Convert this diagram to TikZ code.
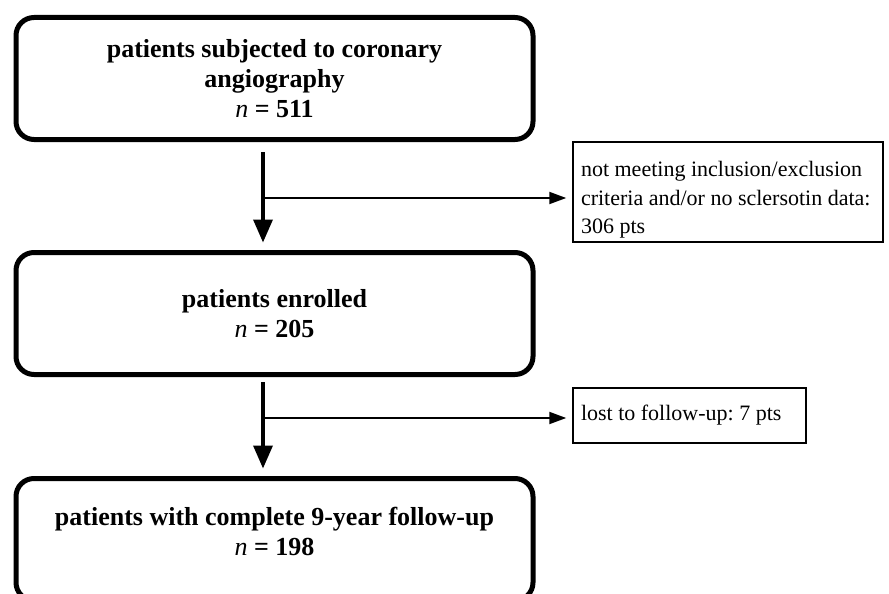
\documentclass[tikz,border=0pt]{standalone}
\usepackage{fontspec}
\setmainfont{Liberation Serif}
\frenchspacing
\usepackage{tikz}
\usetikzlibrary{arrows.meta,calc}

\tikzset{
	mainbox/.style={draw, line width=5pt, rounded corners=18pt, minimum width=517pt, minimum height=122pt, inner sep=0pt, align=center, font=\fontsize{26}{30}\selectfont\bfseries},
	sidebox/.style={draw, line width=1.5pt, inner sep=0pt, align=flush left, font=\fontsize{22}{28.5}\selectfont},
	downarrow/.style={line width=3.5pt, -{Triangle[length=23pt,width=19pt]}},
	sidearrow/.style={line width=2pt, shorten >=6pt, -{Triangle[length=17pt,width=12pt]}}
}

\begin{document}
\begin{tikzpicture}[x=1pt,y=-1pt]
						\useasboundingbox (0,0) rectangle (889,594);
						\clip (0,0) rectangle (889,594);
						
						\node[mainbox] (start) at (274.5,78.5) {patients subjected to coronary\\angiography\\{\mdseries\itshape n} = 511};
						\node[mainbox] (enrol) at (274.5,313.5) {patients enrolled\\{\mdseries\itshape n} = 205};
						\node[mainbox] (final) at (274.5,539.5) {patients with complete 9-year follow-up\\{\mdseries\itshape n} = 198\rule[-17pt]{0pt}{0pt}};
						
						\node[sidebox, minimum width=310pt, minimum height=100pt, text width=294pt] (excl) at (728,192) {\rule{0pt}{31pt}not meeting inclusion/exclusion\\criteria and/or no sclersotin data:\\306 pts};
						\node[sidebox, minimum width=233pt, minimum height=55pt, text width=217pt] (lost) at (689.5,415.5) {lost to follow-up: 7 pts};
						
						\draw[downarrow] ([xshift=-11.5pt,yshift=-10pt]start.south) -- ([xshift=-11.5pt,yshift=7.5pt]enrol.north);
						\draw[downarrow] ([xshift=-11.5pt,yshift=-5pt]enrol.south) -- ([xshift=-11.5pt,yshift=7.5pt]final.north);
						
						\coordinate (b1) at (263,198);
						\coordinate (b2) at (263,418);
						\draw[sidearrow] (b1) -- (b1 -| excl.west);
						\draw[sidearrow] (b2) -- (b2 -| lost.west);
					\end{tikzpicture}
\end{document}
